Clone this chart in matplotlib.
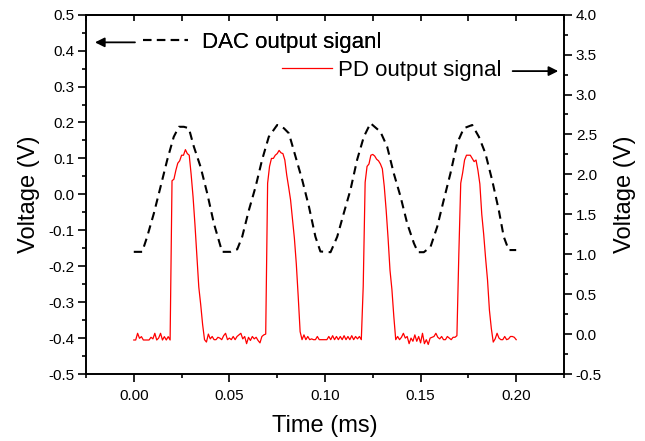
import numpy as np
import matplotlib.pyplot as plt
from matplotlib.ticker import MultipleLocator, FormatStrFormatter

plt.rcParams['font.family'] = ['Liberation Sans', 'DejaVu Sans']
plt.rcParams['axes.unicode_minus'] = False
plt.rcParams['lines.scale_dashes'] = False

# DAC output (left axis, V)
dac_t = [0.0, 0.0044, 0.0070, 0.0105, 0.0140, 0.0175, 0.0209, 0.0236, 0.0262, 0.0288,
         0.0314, 0.0349, 0.0384, 0.0419, 0.0462, 0.0506, 0.0541, 0.0567, 0.0602, 0.0637,
         0.0671, 0.0706, 0.0750, 0.0785, 0.0811, 0.0846, 0.0881, 0.0916, 0.0950, 0.0976,
         0.1029, 0.1064, 0.1098, 0.1133, 0.1168, 0.1203, 0.1238, 0.1290, 0.1325, 0.1360,
         0.1395, 0.1430, 0.1465, 0.1486, 0.1517, 0.1552, 0.1587, 0.1621, 0.1656, 0.1691,
         0.1726, 0.1770, 0.1805, 0.1839, 0.1874, 0.1909, 0.1935, 0.1961, 0.2000]
dac_v = [-0.160, -0.160, -0.118, -0.053, 0.021, 0.096, 0.160, 0.188, 0.188, 0.184,
         0.133, 0.077, 0.003, -0.081, -0.160, -0.160, -0.153, -0.118, -0.044, 0.021,
         0.096, 0.160, 0.193, 0.184, 0.170, 0.105, 0.040, -0.034, -0.118, -0.159,
         -0.161, -0.118, -0.053, 0.012, 0.096, 0.160, 0.198, 0.174, 0.133, 0.058,
         -0.006, -0.081, -0.136, -0.161, -0.161, -0.146, -0.090, -0.016, 0.058, 0.142,
         0.184, 0.193, 0.160, 0.114, 0.040, -0.044, -0.118, -0.155, -0.155]

# PD output (right axis, V), sampled every 0.001 ms from 0 to 0.2 ms
pd_base1 = [-0.074, -0.074, 0.01, -0.053, -0.032, -0.074, -0.074, -0.074, -0.074, -0.04,
            -0.06, 0.01, -0.074, -0.05, 0.01, -0.074, -0.032, -0.074, -0.032, -0.074]
pd_pulse1 = [1.92, 1.94, 2.05, 2.14, 2.17, 2.24, 2.24, 2.31, 2.26, 2.24,
             2.00, 1.72, 1.37, 0.98, 0.59, 0.37, 0.12, -0.07]
pd_base2 = [-0.10, 0.0, -0.06, -0.03, -0.07, -0.07, -0.04, -0.05, -0.07, -0.02,
            0.01, -0.07, -0.05, -0.07, -0.03, -0.07, -0.03, -0.01, 0.01, -0.06,
            -0.03, -0.12, -0.04, -0.08, -0.03, -0.06, -0.04, -0.08, -0.11, -0.03,
            -0.01, 0.0]
pd_pulse2 = [1.89, 2.10, 2.20, 2.20, 2.24, 2.26, 2.30, 2.27, 2.26, 2.18,
             1.99, 1.84, 1.68, 1.44, 1.20, 0.88, 0.47, 0.03, -0.07]
pd_base3 = [-0.01, -0.07, -0.03, -0.07, -0.06, -0.07, -0.07, -0.03, -0.07, -0.07,
            -0.07, -0.07, -0.07, -0.03, -0.07, -0.02, -0.07, -0.03, -0.07, -0.03,
            -0.07, -0.02, -0.07, -0.03, -0.07, -0.02, -0.07, -0.03, -0.06, -0.03,
            -0.07]
pd_pulse3 = [0.6, 1.90, 2.10, 2.13, 2.24, 2.25, 2.23, 2.19, 2.17, 2.13,
             2.07, 1.85, 1.55, 1.20, 0.80, 0.56, 0.22, -0.07]
pd_base4 = [-0.03, -0.07, -0.04, 0.01, -0.05, -0.03, -0.12, -0.05, -0.09, -0.01,
            -0.09, -0.03, -0.11, 0.01, -0.12, -0.07, -0.13, -0.05, -0.04, -0.03,
            0.01, -0.04, -0.06, -0.03, -0.07, -0.07, -0.03, -0.05, -0.07, -0.04,
            -0.04, -0.02]
pd_pulse4 = [1.0, 1.89, 2.02, 2.18, 2.24, 2.24, 2.24, 2.20, 2.16, 2.18,
             2.05, 1.88, 1.50, 1.25, 0.95, 0.68, 0.30, 0.07, -0.10, -0.06,
             0.01]
pd_base5 = [-0.05, -0.07, -0.07, -0.03, -0.07, -0.06, -0.03, -0.03, -0.04, -0.07]

pd_v = np.concatenate([pd_base1, pd_pulse1, pd_base2, pd_pulse2, pd_base3,
                       pd_pulse3, pd_base4, pd_pulse4, pd_base5])
pd_t = np.linspace(0, 0.2, len(pd_v))

fig = plt.figure(figsize=(6.45, 4.41), dpi=100)
ax = fig.add_axes([0.1333, 0.1519, 0.7411, 0.8148])
ax2 = ax.twinx()

dac_line, = ax.plot(dac_t, dac_v, color='k', lw=1.5, dashes=(6, 4),
                    label='DAC output siganl')
pd_line, = ax2.plot(pd_t, pd_v, color='r', lw=0.9, label='PD output signal')

ax.set_xlim(-0.025, 0.225)
ax.set_ylim(-0.5, 0.5)
ax2.set_ylim(-0.5, 4.0)

ax.xaxis.set_major_locator(MultipleLocator(0.05))
ax.xaxis.set_minor_locator(MultipleLocator(0.025))
ax.xaxis.set_major_formatter(FormatStrFormatter('%.2f'))
ax.yaxis.set_major_locator(MultipleLocator(0.1))
ax.yaxis.set_minor_locator(MultipleLocator(0.05))
ax.yaxis.set_major_formatter(FormatStrFormatter('%.1f'))
ax2.yaxis.set_major_locator(MultipleLocator(0.5))
ax2.yaxis.set_minor_locator(MultipleLocator(0.25))
ax2.yaxis.set_major_formatter(FormatStrFormatter('%.1f'))

for a in (ax, ax2):
    for s in a.spines.values():
        s.set_linewidth(1.2)
    a.tick_params(which='major', direction='out', length=5.5, width=1.2,
                  labelsize=11, pad=3)
    a.tick_params(which='minor', direction='out', length=3, width=1.2)
ax.tick_params(axis='x', which='major', pad=5)

secax = ax.secondary_xaxis('top')
secax.xaxis.set_major_locator(MultipleLocator(0.05))
secax.xaxis.set_minor_locator(MultipleLocator(0.025))
secax.tick_params(which='both', direction='in', length=4.5, width=1.2,
                  labeltop=False)
secax.spines['top'].set_linewidth(1.2)

ax.set_xlabel('Time (ms)', fontsize=17, labelpad=9)
ax.set_ylabel('Voltage (V)', fontsize=17, labelpad=6)
ax2.set_ylabel('Voltage (V)', fontsize=17, labelpad=9)

leg1 = ax.legend(handles=[dac_line], loc='center left',
                 bbox_to_anchor=(0.12, 0.923), frameon=False, fontsize=16,
                 handlelength=2.03, handletextpad=0.6, borderpad=0,
                 borderaxespad=0)
ax.add_artist(leg1)
ax2.legend(handles=[pd_line], loc='center left',
           bbox_to_anchor=(0.4096, 0.844), frameon=False, fontsize=16,
           handlelength=2.25, handletextpad=0.3, borderpad=0, borderaxespad=0)

arrow = dict(arrowstyle='-|>', color='k', lw=1.3, mutation_scale=14,
             shrinkA=0, shrinkB=0)
ax.annotate('', xy=(0.0188, 0.923), xytext=(0.1025, 0.923),
            xycoords='axes fraction', arrowprops=arrow)
ax2.annotate('', xy=(0.988, 0.843), xytext=(0.8926, 0.843),
             xycoords='axes fraction', arrowprops=arrow)

fig.savefig('out.png', dpi=100)
